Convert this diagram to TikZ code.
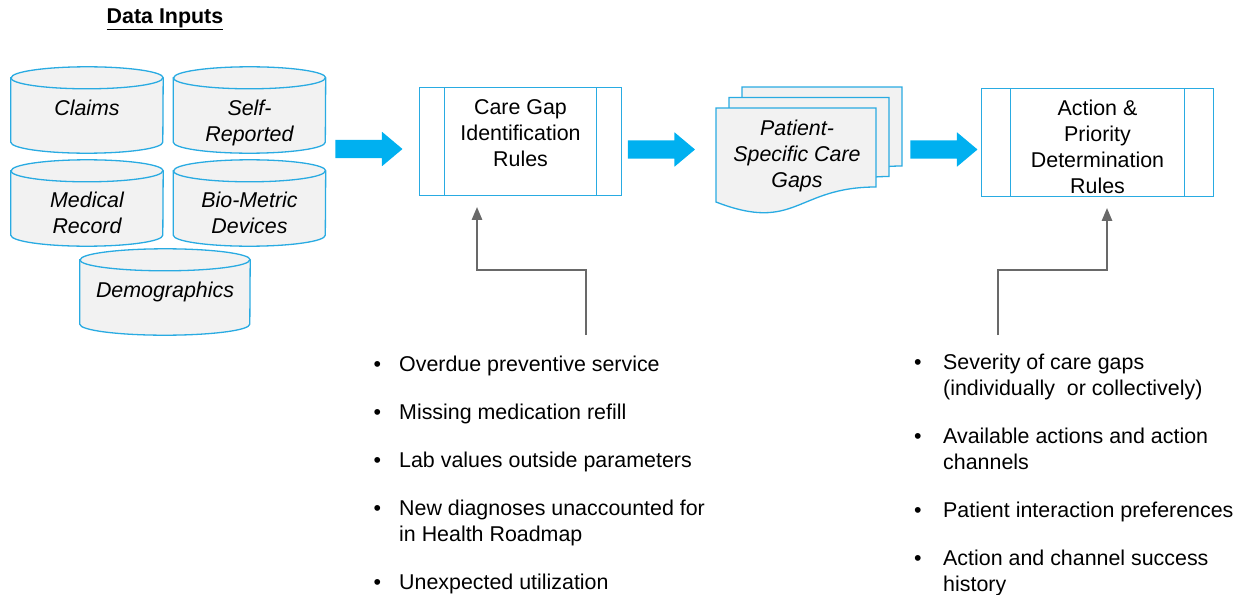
\documentclass[tikz,border=0pt]{standalone}
\usepackage{fontspec}
\setmainfont{Liberation Sans}
\usetikzlibrary{shapes.geometric, shapes.arrows, positioning, calc, arrows}

\definecolor{flowblue}{RGB}{0,176,240}
\definecolor{edgeblue}{RGB}{41,171,226}
\definecolor{dbgray}{RGB}{242,242,242}
\definecolor{linkgray}{RGB}{105,105,105}
\newcommand{\bodyfont}{\fontsize{21.4}{26}\selectfont}

\begin{document}
\begin{tikzpicture}[x=1pt, y=-1pt, >=triangle 45, font=\bodyfont]
  % Styles
  \tikzset{database/.style={rectangle, minimum width=152pt, minimum height=86pt, inner sep=0pt}}
  \tikzset{dbshape/.style={draw=edgeblue, line width=1.3pt, fill=dbgray}}
  \tikzset{dblabel/.style={font=\bodyfont\itshape, align=center, inner sep=0pt}}
  \tikzset{rulebox/.style={rectangle, draw=edgeblue, line width=1.3pt, fill=white, minimum height=108pt, inner sep=0pt,
      path picture={\draw[edgeblue, line width=1.3pt]
        ([xshift=#1]path picture bounding box.north west) -- ([xshift=#1]path picture bounding box.south west)
        ([xshift=-#1]path picture bounding box.north east) -- ([xshift=-#1]path picture bounding box.south east);}}}
  \tikzset{rulelabel/.style={font=\bodyfont, align=center, inner sep=0pt}}
  \tikzset{flowarrow/.style={single arrow, fill=flowblue, draw=none, minimum height=67pt, single arrow head extend=8pt, single arrow tip angle=80, inner xsep=0pt, inner ysep=9pt}}
  \tikzset{docsheet/.style={draw=edgeblue, line width=1.3pt, fill=dbgray}}
  \tikzset{feedback/.style={->, draw=linkgray, line width=2pt}}
  \tikzset{bulletlist/.style={font=\bodyfont, inner sep=0pt, anchor=north west}}

  \useasboundingbox (0,0) rectangle (1241,594);

  % --- Data inputs ---
  \node[font=\bodyfont\bfseries] (inputs) at (165,19) {\underline{Data Inputs}};

  \node[database] (claims) at (87,110) {};
  \node[database] (selfrep) at (249.5,110) {};
  \node[database] (medrec) at (87,203) {};
  \node[database] (biometric) at (249.5,203) {};
  \node[database, minimum width=170pt] (demog) at (165,292) {};

  % cylinders drawn round the database nodes
  \foreach \db/\rx in {claims/76pt, selfrep/76pt, medrec/76pt, biometric/76pt, demog/85pt} {
    \draw[dbshape] ([yshift=-11pt]\db.north west) -- ([yshift=11pt]\db.south west)
      arc[start angle=180, end angle=360, x radius=\rx, y radius=11pt]
      -- ([yshift=-11pt]\db.north east)
      arc[start angle=0, end angle=180, x radius=\rx, y radius=11pt] -- cycle;
    \draw[dbshape, fill=none] ([yshift=-11pt]\db.north west)
      arc[start angle=180, end angle=360, x radius=\rx, y radius=11pt];
  }

  \node[dblabel] (claimsT) at (claims.center) [yshift=2pt] {Claims};
  \node[dblabel] (selfrepT) at (selfrep.center) [yshift=-13pt] {Self-\\Reported};
  \node[dblabel] (medrecT) at (medrec.center) [yshift=-10pt] {Medical\\Record};
  \node[dblabel] (biometricT) at (biometric.center) [yshift=-10pt] {Bio-Metric\\Devices};
  \node[dblabel] (demogT) at (demog.center) {Demographics};

  % --- Rules and outputs ---
  \node[rulebox=25pt, minimum width=202pt] (gaprules) at (520.5,141.5) {};
  \node[rulelabel] (gaprulesT) at (gaprules.center) [yshift=8.5pt] {Care Gap\\Identification\\Rules};

  \coordinate (doc) at (716,108);
  \foreach \k in {2,1,0}
    \draw[docsheet] ($(doc)+(13*\k,-10.5*\k)$) -- ++(160,0) -- ++(0,79)
      .. controls ++(-80,0) and ++(80,31) .. ++(-160,15) -- cycle;
  \node[dblabel] (gapsT) at (797,156) {Patient-\\Specific Care\\Gaps};

  \node[rulebox=29pt, minimum width=232pt] (actrules) at (1097.5,142.5) {};
  \node[rulelabel] (actrulesT) at (actrules.center) [yshift=-4.5pt] {Action \&\\Priority\\Determination\\Rules};

  % --- Flow arrows ---
  \node[flowarrow] (flow1) at (363.5,149) {};
  \node[flowarrow] (flow2) at (656,149.5) {};
  \node[flowarrow] (flow3) at (938.5,149.5) {};

  % --- Criteria lists ---
  \node[bulletlist] (gaplist) at (373.5,353) {%
    \begin{tabular}{@{}l@{\hspace{18pt}}l@{}}
      \textbullet & Overdue preventive service\\[22pt]
      \textbullet & Missing medication refill\\[22pt]
      \textbullet & Lab values outside parameters\\[22pt]
      \textbullet & New diagnoses unaccounted for\\
                  & in Health Roadmap\\[22pt]
      \textbullet & Unexpected utilization
    \end{tabular}};
  \node[bulletlist] (actlist) at (914,351) {%
    \begin{tabular}{@{}l@{\hspace{21.5pt}}l@{}}
      \textbullet & Severity of care gaps\\
                  & (individually~ or collectively)\\[22pt]
      \textbullet & Available actions and action\\
                  & channels\\[22pt]
      \textbullet & Patient interaction preferences\\[22pt]
      \textbullet & Action and channel success\\
                  & history
    \end{tabular}};

  % --- Feedback links ---
  \coordinate (src1) at (585.5,335);
  \coordinate (src2) at (998,335);
  \draw[feedback] (src1) -- ++(0,-65) -| ([xshift=-43.5pt, yshift=-11pt]gaprules.south);
  \draw[feedback] (src2) -- ++(0,-65) -| ([xshift=9.5pt, yshift=-11pt]actrules.south);

\end{tikzpicture}
\end{document}
